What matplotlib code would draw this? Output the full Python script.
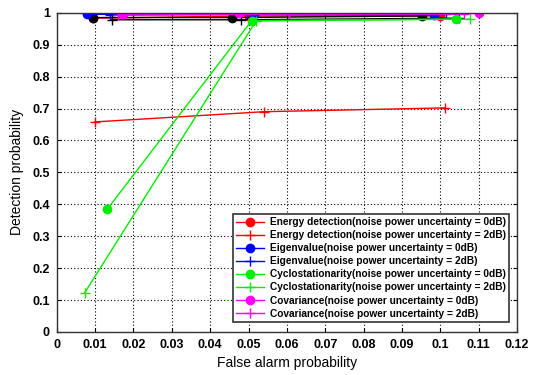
import matplotlib
matplotlib.use("Agg")
import matplotlib.pyplot as plt

plt.rcParams['font.family'] = ['Liberation Sans', 'DejaVu Sans']

# Data (false alarm probability, detection probability)
energy_0_x = [0.0095, 0.0500, 0.1000]
energy_0_y = [0.983, 0.990, 0.990]
energy_2_x = [0.0099, 0.0540, 0.1013]
energy_2_y = [0.658, 0.690, 0.702]
eigen_0_x = [0.0080, 0.0515, 0.0983]
eigen_0_y = [0.995, 0.995, 0.993]
eigen_2_x = [0.0138, 0.0495, 0.1015]
eigen_2_y = [0.993, 0.995, 0.995]
cyclo_0_x = [0.0132, 0.0508, 0.1040]
cyclo_0_y = [0.385, 0.975, 0.980]
cyclo_2_x = [0.0073, 0.0520, 0.1078]
cyclo_2_y = [0.123, 0.975, 0.980]
cov_0_x = [0.0173, 0.0476, 0.1102]
cov_0_y = [0.995, 0.998, 0.998]
cov_2_x = [0.0160, 0.0606, 0.1063]
cov_2_y = [0.993, 0.995, 0.995]
black_0_x = [0.0095, 0.0456, 0.0952]
black_0_y = [0.985, 0.985, 0.990]
black_2_x = [0.0143, 0.0480, 0.1050]
black_2_y = [0.978, 0.978, 0.983]

labels = [
    'Energy detection(noise power uncertainty = 0dB)',
    'Energy detection(noise power uncertainty = 2dB)',
    'Eigenvalue(noise power uncertainty = 0dB)',
    'Eigenvalue(noise power uncertainty = 2dB)',
    'Cyclostationarity(noise power uncertainty = 0dB)',
    'Cyclostationarity(noise power uncertainty = 2dB)',
    'Covariance(noise power uncertainty = 0dB)',
    'Covariance(noise power uncertainty = 2dB)',
]
xticks = [0, 0.01, 0.02, 0.03, 0.04, 0.05, 0.06, 0.07, 0.08, 0.09, 0.1, 0.11, 0.12]
xticklabels = ['0', '0.01', '0.02', '0.03', '0.04', '0.05', '0.06', '0.07', '0.08', '0.09', '0.1', '0.11', '0.12']
yticks = [0, 0.1, 0.2, 0.3, 0.4, 0.5, 0.6, 0.7, 0.8, 0.9, 1]
yticklabels = ['0', '0.1', '0.2', '0.3', '0.4', '0.5', '0.6', '0.7', '0.8', '0.9', '1']

fig = plt.figure(figsize=(5.33, 3.75), dpi=100)
ax = fig.add_axes([0.1064, 0.1147, 0.8636, 0.8513])

red, blue, green, mag = '#ff0000', '#0000ff', '#00ee00', '#ff00ff'
lw = 1.0
ax.plot(energy_0_x, energy_0_y, '-o', color=red, lw=lw, ms=6, label=labels[0])
ax.plot(energy_2_x, energy_2_y, '-+', color=red, lw=lw, ms=7, label=labels[1])
ax.plot(black_0_x, black_0_y, '-o', color='black', lw=lw, ms=6)
ax.plot(black_2_x, black_2_y, '-+', color='black', lw=lw, ms=7)
ax.plot(eigen_0_x, eigen_0_y, '-o', color=blue, lw=lw, ms=6, label=labels[2])
ax.plot(eigen_2_x, eigen_2_y, '-+', color=blue, lw=lw, ms=7, label=labels[3])
ax.plot(cyclo_0_x, cyclo_0_y, '-o', color=green, lw=lw, ms=6, label=labels[4])
ax.plot(cyclo_2_x, cyclo_2_y, '-+', color=green, lw=lw, ms=7, label=labels[5])
ax.plot(cov_0_x, cov_0_y, '-o', color=mag, lw=lw, ms=6, label=labels[6])
ax.plot(cov_2_x, cov_2_y, '-+', color=mag, lw=lw, ms=7, label=labels[7])

ax.set_xlim(0, 0.12)
ax.set_ylim(0, 1)
ax.set_xticks(xticks)
ax.set_xticklabels(xticklabels)
ax.set_yticks(yticks)
ax.set_yticklabels(yticklabels)
ax.tick_params(direction='in', top=True, right=True, labelsize=9, length=3, pad=5)
for lab in ax.get_xticklabels() + ax.get_yticklabels():
    lab.set_fontweight('bold')
ax.grid(True, linestyle=(0, (1, 2)), color='black', linewidth=0.8)
for s in ax.spines.values():
    s.set_linewidth(1.0)
    s.set_color('#333333')

ax.set_xlabel('False alarm probability', fontsize=10, labelpad=4)
ax.set_ylabel('Detection probability', fontsize=10, labelpad=6)

leg = ax.legend(loc='lower right', bbox_to_anchor=(0.983, 0.0325),
                frameon=True, fancybox=False, framealpha=1, edgecolor='#333333',
                handlelength=2.8, handletextpad=0.6, labelspacing=0.3,
                borderpad=0.3, borderaxespad=0.0, prop={'weight': 'bold', 'size': 7.3})
leg.get_frame().set_linewidth(1.2)

fig.savefig('out.png', dpi=100)
